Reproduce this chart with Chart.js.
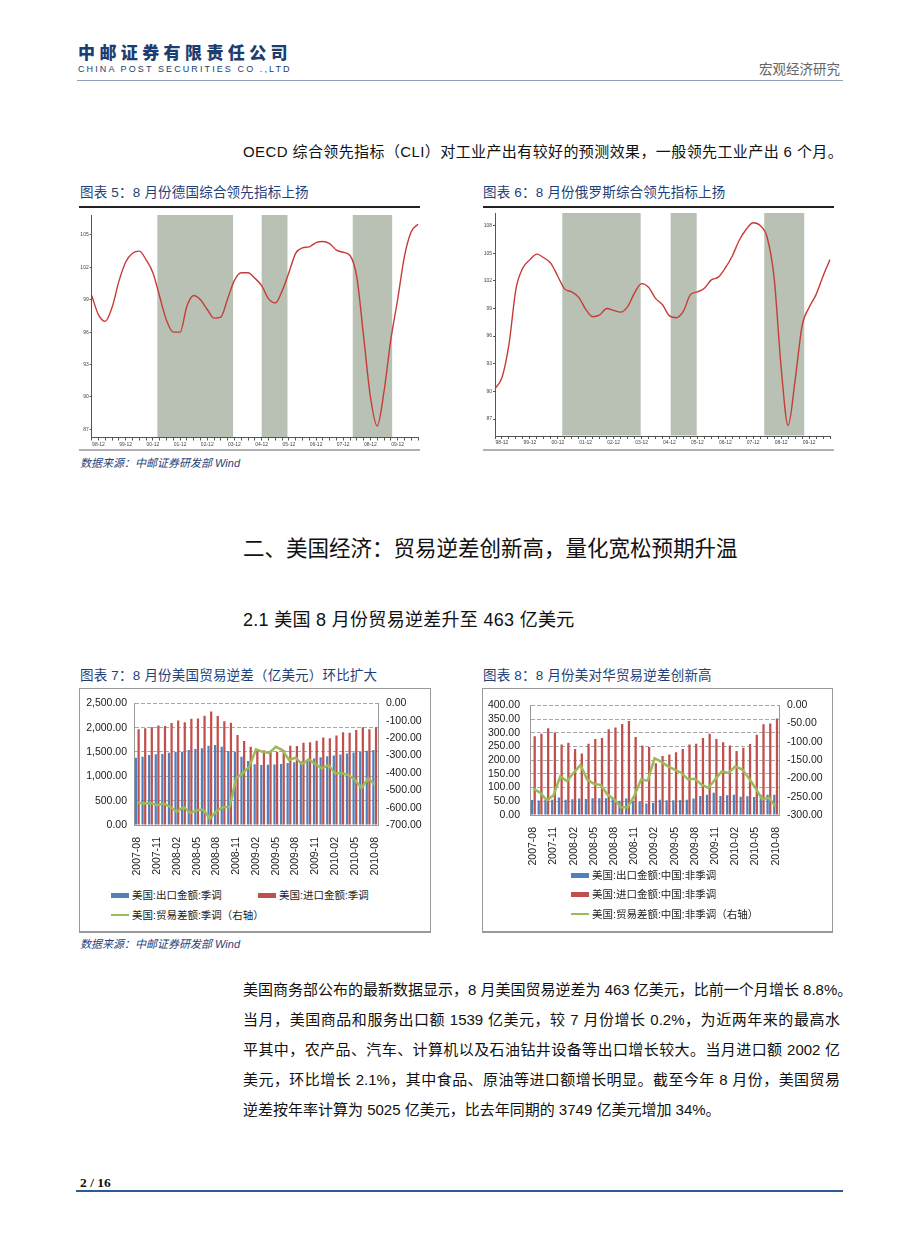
<!DOCTYPE html>
<html lang="zh-CN">
<head>
<meta charset="utf-8">
<title>中邮证券 宏观经济研究 2/16</title>
<script src="https://cdn.jsdelivr.net/npm/chart.js@4.4.1/dist/chart.umd.min.js"></script>
<style>
  html, body { margin: 0; padding: 0; background: #fff; }
  body { position: relative; width: 920px; height: 1249px; overflow: hidden;
         font-family: "Liberation Sans", Arial, "Noto Sans CJK SC", sans-serif; color: #111; }
  .abs { position: absolute; white-space: nowrap; }
  .logo-cn { left: 78px; top: 42px; line-height: 20px; font-size: 17px; font-weight: 900; letter-spacing: 4.4px;
             color: #1d3d70; font-family: "Noto Sans CJK SC", sans-serif; }
  .logo-en { left: 78px; top: 63px; line-height: 12px; font-size: 9px; letter-spacing: 2.1px; color: #1d3d70; }
  .dept { left: 759px; top: 61px; line-height: 18px; font-size: 13.5px; color: #666; }
  .rule { position: absolute; }
  .fig-title { line-height: 18px; font-size: 13.5px; color: #1f3f7a; letter-spacing: 0.2px; }
  .src { line-height: 16px; font-size: 11px; font-style: italic; color: #1f3f7a; }
  .box { position: absolute; border: 1px solid #999; box-sizing: border-box; box-shadow: 0 1px 0 #999; }
  canvas { position: absolute; }
  .legend { position: absolute; font-size: 10.5px; color: #222; }
  .lg-item { display: inline-block; width: 147px; height: 19.5px; line-height: 19.5px; white-space: nowrap; }
  .legend.col .lg-item { display: block; width: auto; height: 19.3px; line-height: 19.3px; }
  .sw { display: inline-block; width: 18px; vertical-align: middle; margin-right: 3px; position: relative; top: -1px; }
  .sw.bar { height: 5px; }
  .sw.line { height: 2px; }
  .para { position: absolute; left: 243px; top: 975px; width: 597px; font-size: 15px; }
  .pline { height: 30px; line-height: 30px; text-align: justify; text-align-last: justify; white-space: nowrap; }
  .pline.last { text-align-last: left; }
</style>
</head>
<body>

<div class="abs logo-cn">中邮证券有限责任公司</div>
<div class="abs logo-en">CHINA POST SECURITIES CO .,LTD</div>
<div class="abs dept">宏观经济研究</div>
<div class="rule" style="left:77px;top:80px;width:766px;height:1px;background:#8ea2bb;"></div>

<div class="abs" style="left:243px;top:142px;line-height:20px;font-size:15px;letter-spacing:0.4px;">OECD 综合领先指标（CLI）对工业产出有较好的预测效果，一般领先工业产出 6 个月。</div>

<div class="abs fig-title" style="left:80px;top:184px;">图表 5：8 月份德国综合领先指标上扬</div>
<div class="abs fig-title" style="left:483px;top:184px;">图表 6：8 月份俄罗斯综合领先指标上扬</div>
<div class="rule" style="left:79px;top:206px;width:341px;height:1.5px;background:#222;"></div>
<div class="rule" style="left:483px;top:206px;width:351px;height:1.5px;background:#222;"></div>
<canvas id="cliDe" width="342" height="241" style="left:79px;top:209px;"></canvas>
<canvas id="cliRu" width="351" height="241" style="left:483px;top:209px;"></canvas>
<div class="rule" style="left:79px;top:449px;width:341px;height:2px;background:#b0b0b0;"></div>
<div class="rule" style="left:483px;top:449px;width:351px;height:2px;background:#b0b0b0;"></div>
<div class="abs src" style="left:80px;top:455px;">数据来源：中邮证券研发部 Wind</div>

<div class="abs" style="left:243px;top:536px;line-height:26px;font-size:21.5px;">二、美国经济：贸易逆差创新高，量化宽松预期升温</div>
<div class="abs" style="left:243px;top:609px;line-height:22px;font-size:18px;letter-spacing:0.3px;">2.1 美国 8 月份贸易逆差升至 463 亿美元</div>

<div class="abs fig-title" style="left:80px;top:667px;">图表 7：8 月份美国贸易逆差（亿美元）环比扩大</div>
<div class="abs fig-title" style="left:483px;top:667px;">图表 8：8 月份美对华贸易逆差创新高</div>
<div class="box" style="left:79px;top:688px;width:352px;height:244px;"></div>
<div class="box" style="left:482px;top:688px;width:351px;height:244px;"></div>
<canvas id="tradeUs" width="350" height="195" style="left:80px;top:689px;"></canvas>
<canvas id="tradeCn" width="349" height="178" style="left:483px;top:689px;"></canvas>
<div id="legendUs" class="legend" style="left:111px;top:886px;width:300px;"></div>
<div id="legendCn" class="legend col" style="left:571px;top:866px;"></div>
<div class="abs src" style="left:80px;top:936px;">数据来源：中邮证券研发部 Wind</div>

<div class="para">
  <div class="pline">美国商务部公布的最新数据显示，8 月美国贸易逆差为 463 亿美元，比前一个月增长 8.8%。</div>
  <div class="pline">当月，美国商品和服务出口额 1539 亿美元，较 7 月份增长 0.2%，为近两年来的最高水</div>
  <div class="pline">平其中，农产品、汽车、计算机以及石油钻井设备等出口增长较大。当月进口额 2002 亿</div>
  <div class="pline">美元，环比增长 2.1%，其中食品、原油等进口额增长明显。截至今年 8 月份，美国贸易</div>
  <div class="pline last">逆差按年率计算为 5025 亿美元，比去年同期的 3749 亿美元增加 34%。</div>
</div>

<div class="abs" style="left:80px;top:1175px;line-height:16px;font-size:13.5px;font-weight:bold;font-family:'Liberation Serif',serif;">2 / 16</div>
<div class="rule" style="left:76px;top:1190px;width:767px;height:1.5px;background:#2f5a8f;"></div>

<script>
// OECD CLI, quarterly points
const quarters = ['98-09','98-12','99-03','99-06','99-09','99-12','00-03','00-06','00-09','00-12',
  '01-03','01-06','01-09','01-12','02-03','02-06','02-09','02-12','03-03','03-06','03-09','03-12',
  '04-03','04-06','04-09','04-12','05-03','05-06','05-09','05-12','06-03','06-06','06-09','06-12',
  '07-03','07-06','07-09','07-12','08-03','08-06','08-09','08-12','09-03','09-06','09-09','09-12',
  '10-03','10-06','10-09'];
const cliGermany = [99.4, 97.6, 97.0, 98.3, 100.7, 102.5, 103.3, 103.5, 102.7, 101.5,
  99.3, 97.1, 96.0, 96.0, 98.4, 99.4, 99.0, 98.1, 97.3, 97.4,
  99.1, 100.8, 101.5, 101.5, 101.0, 100.3, 99.1, 98.7, 99.8, 101.5,
  103.3, 103.8, 103.9, 104.3, 104.4, 104.2, 103.6, 103.4, 103.1, 101.1,
  95.6, 90.0, 87.3, 90.5, 95.3, 99.0, 103.0, 105.3, 106.0];
const cliRussia = [90.3, 91.5, 95.1, 101.1, 103.4, 104.3, 104.9, 104.5, 103.9, 102.5,
  101.1, 100.8, 100.2, 98.9, 98.1, 98.3, 99.0, 98.8, 98.6, 99.2,
  100.7, 101.7, 101.3, 100.1, 99.4, 98.2, 98.0, 98.7, 100.5, 100.8,
  101.2, 102.1, 102.4, 103.4, 104.7, 106.4, 107.6, 108.3, 108.0, 106.7,
  102.3, 92.6, 86.3, 91.2, 97.1, 99.1, 100.5, 102.5, 104.3];
const cliTicks = [87, 90, 93, 96, 99, 102, 105];
const cliTicksRu = [87, 90, 93, 96, 99, 102, 105, 108];
// shaded periods, in quarter positions on the x axis
const shadeGermany = [[9.66, 20.8], [25.0, 28.8], [38.4, 44.2]];
const shadeRussia = [[9.64, 20.87], [25.17, 28.9], [38.58, 44.31]];

// US trade, 亿美元, monthly
const months = ['2007-08','2007-09','2007-10','2007-11','2007-12',
  '2008-01','2008-02','2008-03','2008-04','2008-05','2008-06','2008-07','2008-08','2008-09','2008-10','2008-11','2008-12',
  '2009-01','2009-02','2009-03','2009-04','2009-05','2009-06','2009-07','2009-08','2009-09','2009-10','2009-11','2009-12',
  '2010-01','2010-02','2010-03','2010-04','2010-05','2010-06','2010-07','2010-08'];
const usExports = [1384, 1404, 1438, 1452, 1459, 1486, 1507, 1507, 1541, 1562, 1575, 1630, 1644, 1610, 1521, 1507, 1404,
  1315, 1247, 1235, 1240, 1245, 1255, 1275, 1290, 1310, 1335, 1365, 1390, 1410, 1430, 1450, 1470, 1490, 1505, 1525, 1539];
const usImports = [1966, 1986, 2007, 2045, 2034, 2095, 2145, 2110, 2185, 2190, 2245, 2330, 2240, 2130, 2100, 1850, 1726,
  1610, 1555, 1534, 1521, 1507, 1541, 1630, 1623, 1692, 1699, 1733, 1795, 1781, 1836, 1904, 1897, 1952, 2007, 1966, 2007];
const usBalance = [-569, -577, -573, -586, -577, -596, -624, -596, -630, -615, -611, -664, -620, -598, -596, -431, -402,
  -364, -265, -279, -285, -250, -269, -326, -313, -351, -322, -351, -374, -355, -402, -402, -412, -440, -488, -431, -469];
const cnExports = [55, 53, 55, 56, 64, 56, 57, 60, 58, 61, 61, 61, 58, 52, 60, 52, 50, 42, 45,
  56, 54, 54, 55, 56, 60, 69, 74, 81, 69, 72, 74, 67, 68, 66, 74, 74, 74];
const cnImports = [287, 296, 316, 301, 257, 263, 241, 224, 260, 277, 281, 313, 319, 332, 343, 284, 253, 248, 189,
  215, 221, 229, 241, 257, 260, 281, 296, 277, 265, 253, 233, 245, 259, 293, 331, 334, 352];
const cnBalance = [-228, -239, -260, -246, -194, -208, -184, -163, -203, -215, -218, -244, -257, -279, -279, -248, -203, -206, -145,
  -154, -167, -176, -185, -203, -201, -217, -226, -203, -181, -185, -167, -175, -199, -226, -257, -253, -277];

Chart.defaults.font.family = '"Liberation Sans", Arial, "Noto Sans CJK SC", sans-serif';
Chart.defaults.animation = false;

const shadePlugin = {
  id: 'shade',
  beforeDatasetsDraw(chart, args, opts) {
    const { ctx, chartArea, scales } = chart;
    ctx.save();
    ctx.fillStyle = opts.color;
    for (const [a, b] of opts.ranges) {
      const x0 = scales.x.getPixelForValue(a), x1 = scales.x.getPixelForValue(b);
      ctx.fillRect(x0, chartArea.top, x1 - x0, chartArea.bottom - chartArea.top - 0.5);
    }
    ctx.restore();
  }
};

function cliChart(id, values, ranges, yMin, yMax, yTicks, pad, xHeight, yWidth) {
  new Chart(document.getElementById(id), {
    type: 'line',
    data: { labels: quarters, datasets: [{ data: values, borderColor: '#c63c38', borderWidth: 1.4, pointRadius: 0,
      cubicInterpolationMode: 'monotone', fill: false }] },
    options: {
      responsive: false,
      layout: { padding: pad },
      plugins: { legend: { display: false }, tooltip: { enabled: false }, shade: { ranges, color: '#b8c1b3' } },
      scales: {
        x: {
          grid: { drawOnChartArea: false, tickLength: 3, tickColor: '#555' },
          border: { color: '#555' },
          ticks: { autoSkip: false, maxRotation: 0, minRotation: 0, padding: 1, color: '#444', font: { size: 5 },
            callback: (v, i) => quarters[i].endsWith('-12') ? quarters[i] : '' },
          afterFit: (s) => { s.height = xHeight; }
        },
        y: {
          min: yMin, max: yMax,
          afterBuildTicks: (a) => { a.ticks = yTicks.map((v) => ({ value: v })); },
          grid: { drawOnChartArea: false, tickLength: 2, tickColor: '#555' },
          border: { color: '#555' },
          ticks: { padding: 1, color: '#444', font: { size: 5 } },
          afterFit: (s) => { s.width = yWidth; }
        }
      }
    },
    plugins: [shadePlugin]
  });
}

cliChart('cliDe', cliGermany, shadeGermany, 86.24, 106.85, cliTicks, { top: 6, right: 3 }, 12.5, 12.7);
cliChart('cliRu', cliRussia, shadeRussia, 85.16, 109.36, cliTicksRu, { top: 2.7, right: 4 }, 14, 12);

const fmt2 = (v) => Number(v).toLocaleString('en-US', { minimumFractionDigits: 2, maximumFractionDigits: 2 });

function tradeChart(id, names, exp, imp, bal, left, right, geo) {
  return new Chart(document.getElementById(id), {
    type: 'bar',
    data: {
      labels: months,
      datasets: [
        { label: names[0], data: exp, backgroundColor: '#4f81bd', yAxisID: 'y', order: 2, categoryPercentage: 0.8, barPercentage: 0.85 },
        { label: names[1], data: imp, backgroundColor: '#c0504d', yAxisID: 'y', order: 2, categoryPercentage: 0.8, barPercentage: 0.85 },
        { type: 'line', label: names[2], data: bal, borderColor: '#9bbb59', borderWidth: 2.5, pointRadius: 0,
          tension: 0, yAxisID: 'y1', order: 0 }
      ]
    },
    options: {
      responsive: false,
      layout: { padding: { top: 14, left: 0, right: 0, bottom: 0 } },
      plugins: { legend: { display: false }, tooltip: { enabled: false } },
      scales: {
        x: {
          grid: { display: false },
          border: { color: '#999' },
          ticks: { autoSkip: false, minRotation: 90, maxRotation: 90, padding: 4, color: '#1a1a1a', font: { size: 10.5 },
            callback: (v, i) => i % 3 === 0 ? months[i] : '' },
          afterFit: (s) => { s.height = geo.xHeight; }
        },
        y: {
          position: 'left', min: left[0], max: left[1],
          ticks: { stepSize: left[2], autoSkip: false, padding: geo.leftPad, color: '#1a1a1a', font: { size: 10.5 }, callback: fmt2 },
          grid: { color: '#a8a8a8', drawTicks: false },
          border: { color: '#999', dash: [4, 2] },
          afterFit: (s) => { s.width = geo.yWidth; }
        },
        y1: {
          position: 'right', min: right[0], max: right[1],
          ticks: { stepSize: right[2], autoSkip: false, padding: 8, color: '#1a1a1a', font: { size: 10.5 }, callback: fmt2 },
          grid: { drawOnChartArea: false, drawTicks: false },
          border: { color: '#999' },
          afterFit: (s) => { s.width = geo.y1Width; }
        }
      }
    }
  });
}

function buildLegend(elId, chart) {
  const el = document.getElementById(elId);
  chart.data.datasets.forEach((ds) => {
    const item = document.createElement('span');
    item.className = 'lg-item';
    const sw = document.createElement('i');
    const isLine = ds.type === 'line';
    sw.className = isLine ? 'sw line' : 'sw bar';
    sw.style.background = isLine ? ds.borderColor : ds.backgroundColor;
    item.append(sw, document.createTextNode(ds.label));
    el.append(item);
  });
}

const usChart = tradeChart('tradeUs', ['美国:出口金额:季调', '美国:进口金额:季调', '美国:贸易差额:季调（右轴）'],
  usExports, usImports, usBalance, [0, 2500, 500], [-700, 0, 100], { xHeight: 59, yWidth: 54, y1Width: 52, leftPad: 7 });
const cnChart = tradeChart('tradeCn', ['美国:出口金额:中国:非季调', '美国:进口金额:中国:非季调', '美国:贸易差额:中国:非季调（右轴）'],
  cnExports, cnImports, cnBalance, [0, 400, 50], [-300, 0, 50], { xHeight: 52, yWidth: 47, y1Width: 53, leftPad: 10 });
buildLegend('legendUs', usChart);
buildLegend('legendCn', cnChart);
</script>
</body>
</html>
